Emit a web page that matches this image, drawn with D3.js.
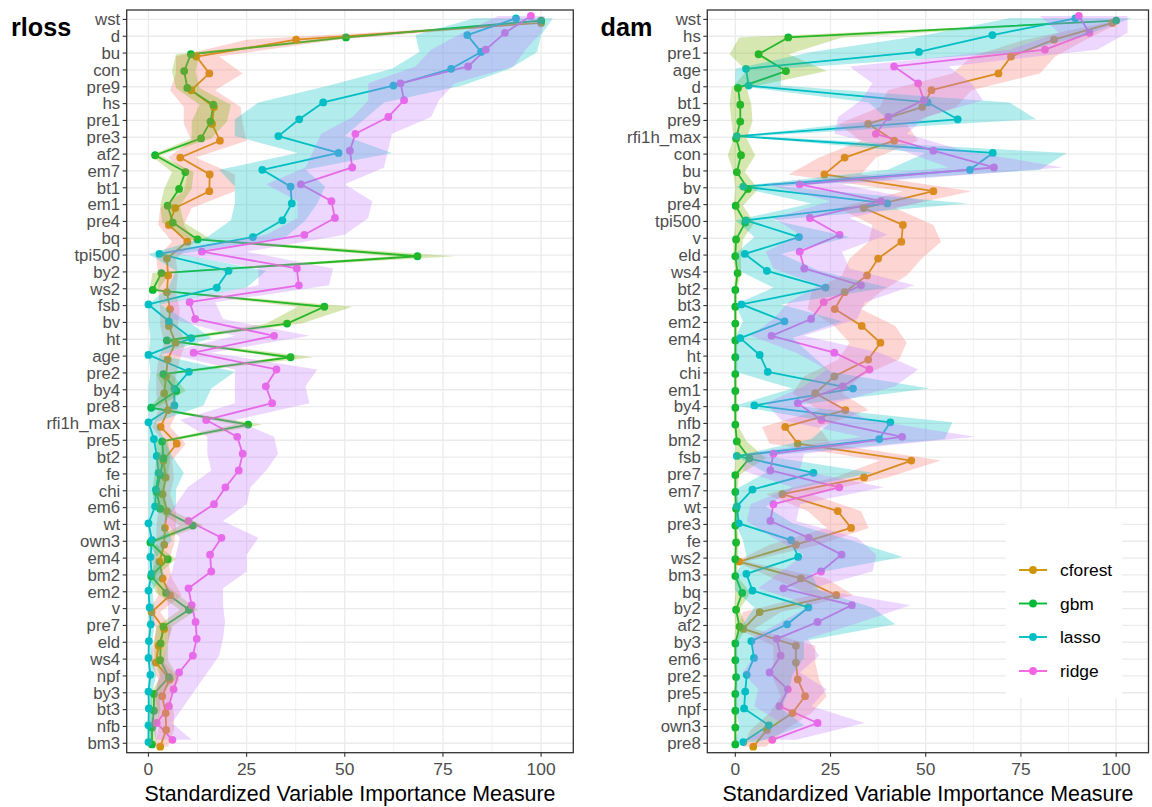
<!DOCTYPE html>
<html>
<head>
<meta charset="utf-8">
<script src="https://cdn.jsdelivr.net/npm/d3@7"></script>
<style>
  body { margin: 0; background: #ffffff; }
  svg { display: block; }
  text { font-family: "Liberation Sans", Arial, Helvetica, sans-serif; }
</style>
</head>
<body>
<svg id="chart" width="1152" height="807"></svg>
<script>
// ---------- shared settings ----------
const seriesNames = ["cforest", "gbm", "lasso", "ridge"];
const lineColors = ["#CD9600", "#00BA38", "#00BFC4", "#F564E3"];
const ribbonColors = ["#F8766D", "#7CAE00", "#00BFC4", "#C77CFF"];
const xTicks = [0, 25, 50, 75, 100];
const xMinorTicks = [12.5, 37.5, 62.5, 87.5];
const axisTitle = "Standardized Variable Importance Measure";

// ---------- rloss ----------
const rlossCategories = ["wst","d","bu","con","pre9","hs","pre1","pre3","af2","em7","bt1","em1","pre4","bq","tpi500","by2","ws2","fsb","bv","ht","age","pre2","by4","pre8","rfi1h_max","pre5","bt2","fe","chi","em6","wt","own3","em4","bm2","em2","v","pre7","eld","ws4","npf","by3","bt3","nfb","bm3"];

const rlossCforest   = [100,37.6,12.2,15.5,10.9,16.7,16.2,18.2,8.1,15.6,15.5,6.8,5.2,9.9,4.7,5.0,4.7,5.5,5.2,6.9,4.9,4.5,4.0,5.0,3.1,7.2,3.8,4.4,3.6,4.7,4.2,4.0,2.8,3.6,5.5,0.8,4.0,2.6,1.9,5.4,3.5,4.4,4.5,3.0];
const rlossCforestLo = [99,25,7,7,5.5,9,9,11,5,10,9,3,2.5,6,2,2.5,2.5,3,3,4,2.5,2,2,2.5,1,4,2,2.5,2,2.5,2,2,1,1.5,2.5,0,2,1,0.5,2.5,1.5,2.5,2.5,1.5];
const rlossCforestHi = [101,48,18,24,17,23.5,24,25,12,22,22,11,9,12,7,7.5,7,8,7.5,9.5,8,7,6.5,7.5,5.5,9.5,6,6.5,5.5,7,7,6.5,5,6,8.5,3,6,4.5,4,8,5.5,6.5,6.5,5];

const rlossGbm   = [100,50.3,10.8,9.1,9.9,16.5,15.8,13.4,1.7,9.4,7.8,4.9,6.2,12.5,68.5,3.3,1.1,44.8,35.3,4.7,36.2,3.8,7.1,0.7,25.4,3.5,3.8,3.0,2.1,3.0,11.3,0.5,4.9,0.7,4.5,10.3,3.8,3.1,3.0,5.2,1.4,1.4,0.9,0.9];
const rlossGbmLo = [99.5,47,7,6,7,13,11,11,0.5,6,4,3,3.5,10,62,1,0.3,38,30,3,33,2,4,0.2,22,2,2,1.5,1,1.5,8,0,2.5,0,2,8,2,1.5,1.5,3,0.5,0.5,0.2,0.2];
const rlossGbmHi = [100.5,53,13,12,13,21,20,16,3,11.5,11,8,9,16,78,5.5,2.5,52,39,7,42,6,9.5,2,29,5,5.5,5,4,5,14,1.5,7,2,7,12.5,6,5,5,7.5,3,3,2,2];

const rlossLasso   = [93.6,81.2,84.7,77.1,62.4,44.5,38.4,33.1,48.4,29.0,36.2,36.5,34.1,26.6,2.8,20.4,17.4,0,5.2,10.9,0,10.3,6.6,6.6,0,1.4,2.1,2.6,1.9,1.7,0,0.9,0.5,0.8,0,0.3,0.6,0.1,0,0.5,0,0.1,0,0];
const rlossLassoLo = [83,68,69,62,46,28,22,22,38,18,22,22,21,15,0,7,5,0,0,0.5,0,0.5,0,0,0,0,0,0,0,0,0,0,0,0,0,0,0,0,0,0,0,0,0,0];
const rlossLassoHi = [103,100,99,92,80,60,55,50,62,40,45,43,40,35,8,30,25,3,10,16,3,22,16,14,2,4,6,9,7,7,4,6,2,4,1,1.5,1.5,1,1,2,1,1,1,1];

const rlossRidge   = [97.4,90.8,85.9,81.4,64.2,65.1,61.1,52.7,51.3,51.9,38.8,46.6,47.5,39.7,13.6,37.8,38.3,10.5,11.9,32.0,11.5,32.6,29.9,31.5,14.7,22.6,24.0,23.0,19.6,16.7,10.2,18.6,15.7,16.0,10.2,11.0,12.0,12.3,11.3,7.8,6.4,5.2,2.1,6.1];
const rlossRidgeLo = [89,80,72,68,56,56,52,44,42,40,30,38,38,30,4,28,28,5,6,22,4,22,22,22,8,15,15,16,10,7,4,8,7,6,4,5,5,5,4,3,2,1.5,0.5,2];
const rlossRidgeHi = [101,100,96,93,78,74,72,62,61,60,50,57,56,50,25,47,46,17,19,41,16,43,40,41,22,32,33,30,26,25,19,28,25,25,19,19,19.5,19,18,15,12,9,6,11];

// ---------- dam ----------
const damCategories = ["wst","hs","pre1","age","d","bt1","pre9","rfi1h_max","con","bu","bv","pre4","tpi500","v","eld","ws4","bt2","bt3","em2","em4","ht","chi","em1","by4","nfb","bm2","fsb","pre7","em7","wt","pre3","fe","ws2","bm3","bq","by2","af2","by3","em6","pre2","pre5","npf","own3","pre8"];

const damCforest   = [99.0,83.7,72.4,69.1,51.5,49.1,34.9,41.7,28.7,23.4,52.0,33.7,44.0,43.6,37.5,34.6,28.7,26.1,33.2,38.1,34.9,26.0,21.0,28.9,13.1,16.4,46.2,33.8,12.4,26.9,30.4,15.9,1.0,17.2,26.5,6.4,2.1,15.9,15.9,16.4,18.3,15.0,8.3,4.7];
const damCforestLo = [97,76,62,57,40,38,27,33,22,14,44,27,36,35,30,28,20,19,26,30,27,18,15,22,7,9,38,26,8,19,24,9,0,10,20,2,0.5,10,10,10,12,9,4,2];
const damCforestHi = [101,92,84,80,62,58,45,48,37,33,62,42,52,54,49,45,38,33,42,45,43,33,28,35,22,25,54,40,20,33,35,22,3,24,31,12,5,21,21,22,24,20,13,8];

const damGbm   = [100,13.9,6.1,13.3,0.7,1.3,1.3,0.2,1.5,0.4,3.3,0.1,2.6,0.2,0,0.6,0,0,0,0,0,0,0,0,0,0.4,3.7,0,0,0.2,0,0.2,0,0,1.8,0.2,1.1,0,0,0.2,0,0,0,0];
const damGbmLo = [99.5,1,-1.5,3,-1,-1.5,-1,-0.5,-2,-0.5,0,-0.5,0,-0.5,-0.5,0,-0.3,-0.3,-0.3,-0.3,-0.3,-0.3,-0.3,-0.3,-0.3,0,0,-0.3,-0.3,-0.3,-0.3,-0.3,-0.3,-0.3,0,-0.3,0,-0.3,-0.3,-0.3,-0.3,-0.3,-0.3,-0.3];
const damGbmHi = [100.5,28,14,24,3,4.2,4.5,3,5.2,2.5,6,2,5,2,1.5,1.5,0.5,0.5,0.5,0.5,0.5,0.5,0.5,0.5,0.5,3,8,1,0.5,1,0.5,1,0.5,0.5,4,1,3,0.5,0.5,0.5,0.5,0.5,0.5,0.5];

const damLasso   = [89.3,67.5,48.2,2.8,3.5,50.5,58.4,0.4,67.6,61.6,2.1,39.9,2.8,16.7,2.5,8.3,23.7,1.6,12.9,1.3,6.4,8.5,30.9,5.0,40.7,37.8,0.4,20.5,4.5,0.4,0.9,14.6,16.5,2.9,4.5,19.2,13.6,4.2,4.9,3.0,2.6,2.3,8.8,2.1];
const damLassoLo = [72,50,20,0,0,35,40,0,50,40,0,20,0,5,0,1,10,0,2,0,0,0,15,0,25,20,0,8,0,0,0,2,3,0,0,5,2,0,0,0,0,0,1,0];
const damLassoHi = [104,92,75,12,12,72,79,5,87,80,12,61,10,30,12,22,40,12,28,15,20,25,51,15,57,55,8,36,15,8,15,30,44,20,22,36,42,18,18,15,14,12,18,6];

const damRidge   = [90.2,93.0,81.3,41.7,48.0,49.5,40.2,36.9,52.0,67.9,16.9,38.3,19.6,27.4,16.9,18.1,33.0,23.2,19.9,9.5,26.0,35.2,28.2,16.4,22.6,43.8,10.0,9.2,27.3,10.0,9.2,19.3,27.9,22.5,12.6,30.6,21.6,10.9,11.9,9.0,13.8,11.6,21.6,9.7];
const damRidgeLo = [80,85,72,30,36,33,27,26,44,56,8,25,10,17,8,10,22,14,10,4,16,24,18,8,12,33,3,2,15,4,3,10,18,12,6,20,12,4,5,2,6,5,12,3];
const damRidgeHi = [103,103,95,56,62,65,50,45,60,86,28,50,30,40,28,30,47,34,32,18,38,48,42,26,35,63,18,17,39,17,16,32,37,36,20,46,33,19,22,17,24,20,34,16];

// ---------- drawing ----------
const svg = d3.select("#chart");
const tickFont = 17.4;
const categoryFont = 16.8;

function drawPanel(cfg) {
  const { id, title, titleX, categories, series, left, right, top, bottom, xDomain } = cfg;

  const x = d3.scaleLinear().domain(xDomain).range([left, right]);
  const y = d3.scalePoint().domain(categories).range([top, bottom]).padding(0.56);
  const dodge = 2.3;
  const offset = i => (1.5 - i) * dodge;

  const g = svg.append("g");

  g.append("clipPath").attr("id", "clip-" + id)
    .append("rect").attr("x", left).attr("y", top)
    .attr("width", right - left).attr("height", bottom - top);

  // gridlines
  const grid = g.append("g");
  grid.selectAll("line.minor").data(xMinorTicks).join("line")
    .attr("x1", d => x(d)).attr("x2", d => x(d))
    .attr("y1", top).attr("y2", bottom)
    .attr("stroke", "#EBEBEB").attr("stroke-width", 0.7);
  grid.selectAll("line.majx").data(xTicks).join("line")
    .attr("x1", d => x(d)).attr("x2", d => x(d))
    .attr("y1", top).attr("y2", bottom)
    .attr("stroke", "#EBEBEB").attr("stroke-width", 1.3);
  grid.selectAll("line.majy").data(categories).join("line")
    .attr("x1", left).attr("x2", right)
    .attr("y1", d => y(d)).attr("y2", d => y(d))
    .attr("stroke", "#EBEBEB").attr("stroke-width", 1.3);

  const plot = g.append("g").attr("clip-path", "url(#clip-" + id + ")");

  const rows = s => categories.map((c, k) => ({ c, v: s.value[k], lo: s.lo[k], hi: s.hi[k] }));

  // lines
  series.forEach((s, i) => {
    const line = d3.line().x(d => x(d.v)).y(d => y(d.c) + offset(i));
    plot.append("path").datum(rows(s))
      .attr("d", line).attr("fill", "none")
      .attr("stroke", lineColors[i]).attr("stroke-width", 1.8)
      .attr("stroke-linejoin", "round");
  });

  // points
  series.forEach((s, i) => {
    plot.append("g").selectAll("circle").data(rows(s)).join("circle")
      .attr("cx", d => x(d.v)).attr("cy", d => y(d.c) + offset(i))
      .attr("r", 3.9).attr("fill", lineColors[i]);
  });

  // uncertainty ribbons
  series.forEach((s, i) => {
    const area = d3.area()
      .y(d => y(d.c) + offset(i))
      .x0(d => x(d.lo)).x1(d => x(d.hi));
    plot.append("path").datum(rows(s))
      .attr("d", area).attr("fill", ribbonColors[i]).attr("fill-opacity", 0.3);
  });

  // panel border
  g.append("rect").attr("x", left).attr("y", top)
    .attr("width", right - left).attr("height", bottom - top)
    .attr("fill", "none").attr("stroke", "#333333").attr("stroke-width", 1.3);

  // y axis (categories)
  const ya = g.append("g");
  ya.selectAll("line").data(categories).join("line")
    .attr("x1", left - 4).attr("x2", left)
    .attr("y1", d => y(d)).attr("y2", d => y(d))
    .attr("stroke", "#333333").attr("stroke-width", 1.1);
  ya.selectAll("text").data(categories).join("text")
    .attr("x", left - 6.5).attr("y", d => y(d)).attr("dy", "0.35em")
    .attr("text-anchor", "end").attr("font-size", categoryFont).attr("fill", "#4D4D4D")
    .text(d => d);

  // x axis
  const xa = g.append("g");
  xa.selectAll("line").data(xTicks).join("line")
    .attr("x1", d => x(d)).attr("x2", d => x(d))
    .attr("y1", bottom).attr("y2", bottom + 4)
    .attr("stroke", "#333333").attr("stroke-width", 1.1);
  xa.selectAll("text").data(xTicks).join("text")
    .attr("x", d => x(d)).attr("y", bottom + 22.5)
    .attr("text-anchor", "middle").attr("font-size", tickFont).attr("fill", "#4D4D4D")
    .text(d => d);

  g.append("text")
    .attr("x", (left + right) / 2).attr("y", 801)
    .attr("text-anchor", "middle").attr("font-size", 21.4).attr("fill", "#000000")
    .text(axisTitle);

  g.append("text")
    .attr("x", titleX).attr("y", 36)
    .attr("font-size", 25.2).attr("font-weight", "bold").attr("fill", "#000000")
    .text(title);
}

drawPanel({
  id: "rloss", title: "rloss", titleX: 11,
  categories: rlossCategories,
  series: [
    { value: rlossCforest, lo: rlossCforestLo, hi: rlossCforestHi },
    { value: rlossGbm, lo: rlossGbmLo, hi: rlossGbmHi },
    { value: rlossLasso, lo: rlossLassoLo, hi: rlossLassoHi },
    { value: rlossRidge, lo: rlossRidgeLo, hi: rlossRidgeHi }
  ],
  left: 126.7, right: 573.3, top: 10, bottom: 752.7, xDomain: [-5.54, 108.2]
});

drawPanel({
  id: "dam", title: "dam", titleX: 600.5,
  categories: damCategories,
  series: [
    { value: damCforest, lo: damCforestLo, hi: damCforestHi },
    { value: damGbm, lo: damGbmLo, hi: damGbmHi },
    { value: damLasso, lo: damLassoLo, hi: damLassoHi },
    { value: damRidge, lo: damRidgeLo, hi: damRidgeHi }
  ],
  left: 707.3, right: 1148.5, top: 10, bottom: 752.7, xDomain: [-7.36, 108.5]
});

// legend inside the dam panel
const legend = svg.append("g");
legend.append("rect").attr("x", 1006).attr("y", 509)
  .attr("width", 116).attr("height", 189).attr("fill", "#ffffff");
const legendY = [570, 603.5, 637, 671];
seriesNames.forEach((name, i) => {
  const row = legend.append("g");
  row.append("line").attr("x1", 1019).attr("x2", 1047)
    .attr("y1", legendY[i]).attr("y2", legendY[i])
    .attr("stroke", lineColors[i]).attr("stroke-width", 1.9);
  row.append("circle").attr("cx", 1033).attr("cy", legendY[i]).attr("r", 3.9)
    .attr("fill", lineColors[i]);
  row.append("text").attr("x", 1060).attr("y", legendY[i]).attr("dy", "0.35em")
    .attr("font-size", tickFont).attr("fill", "#000000").text(name);
});
</script>
</body>
</html>
